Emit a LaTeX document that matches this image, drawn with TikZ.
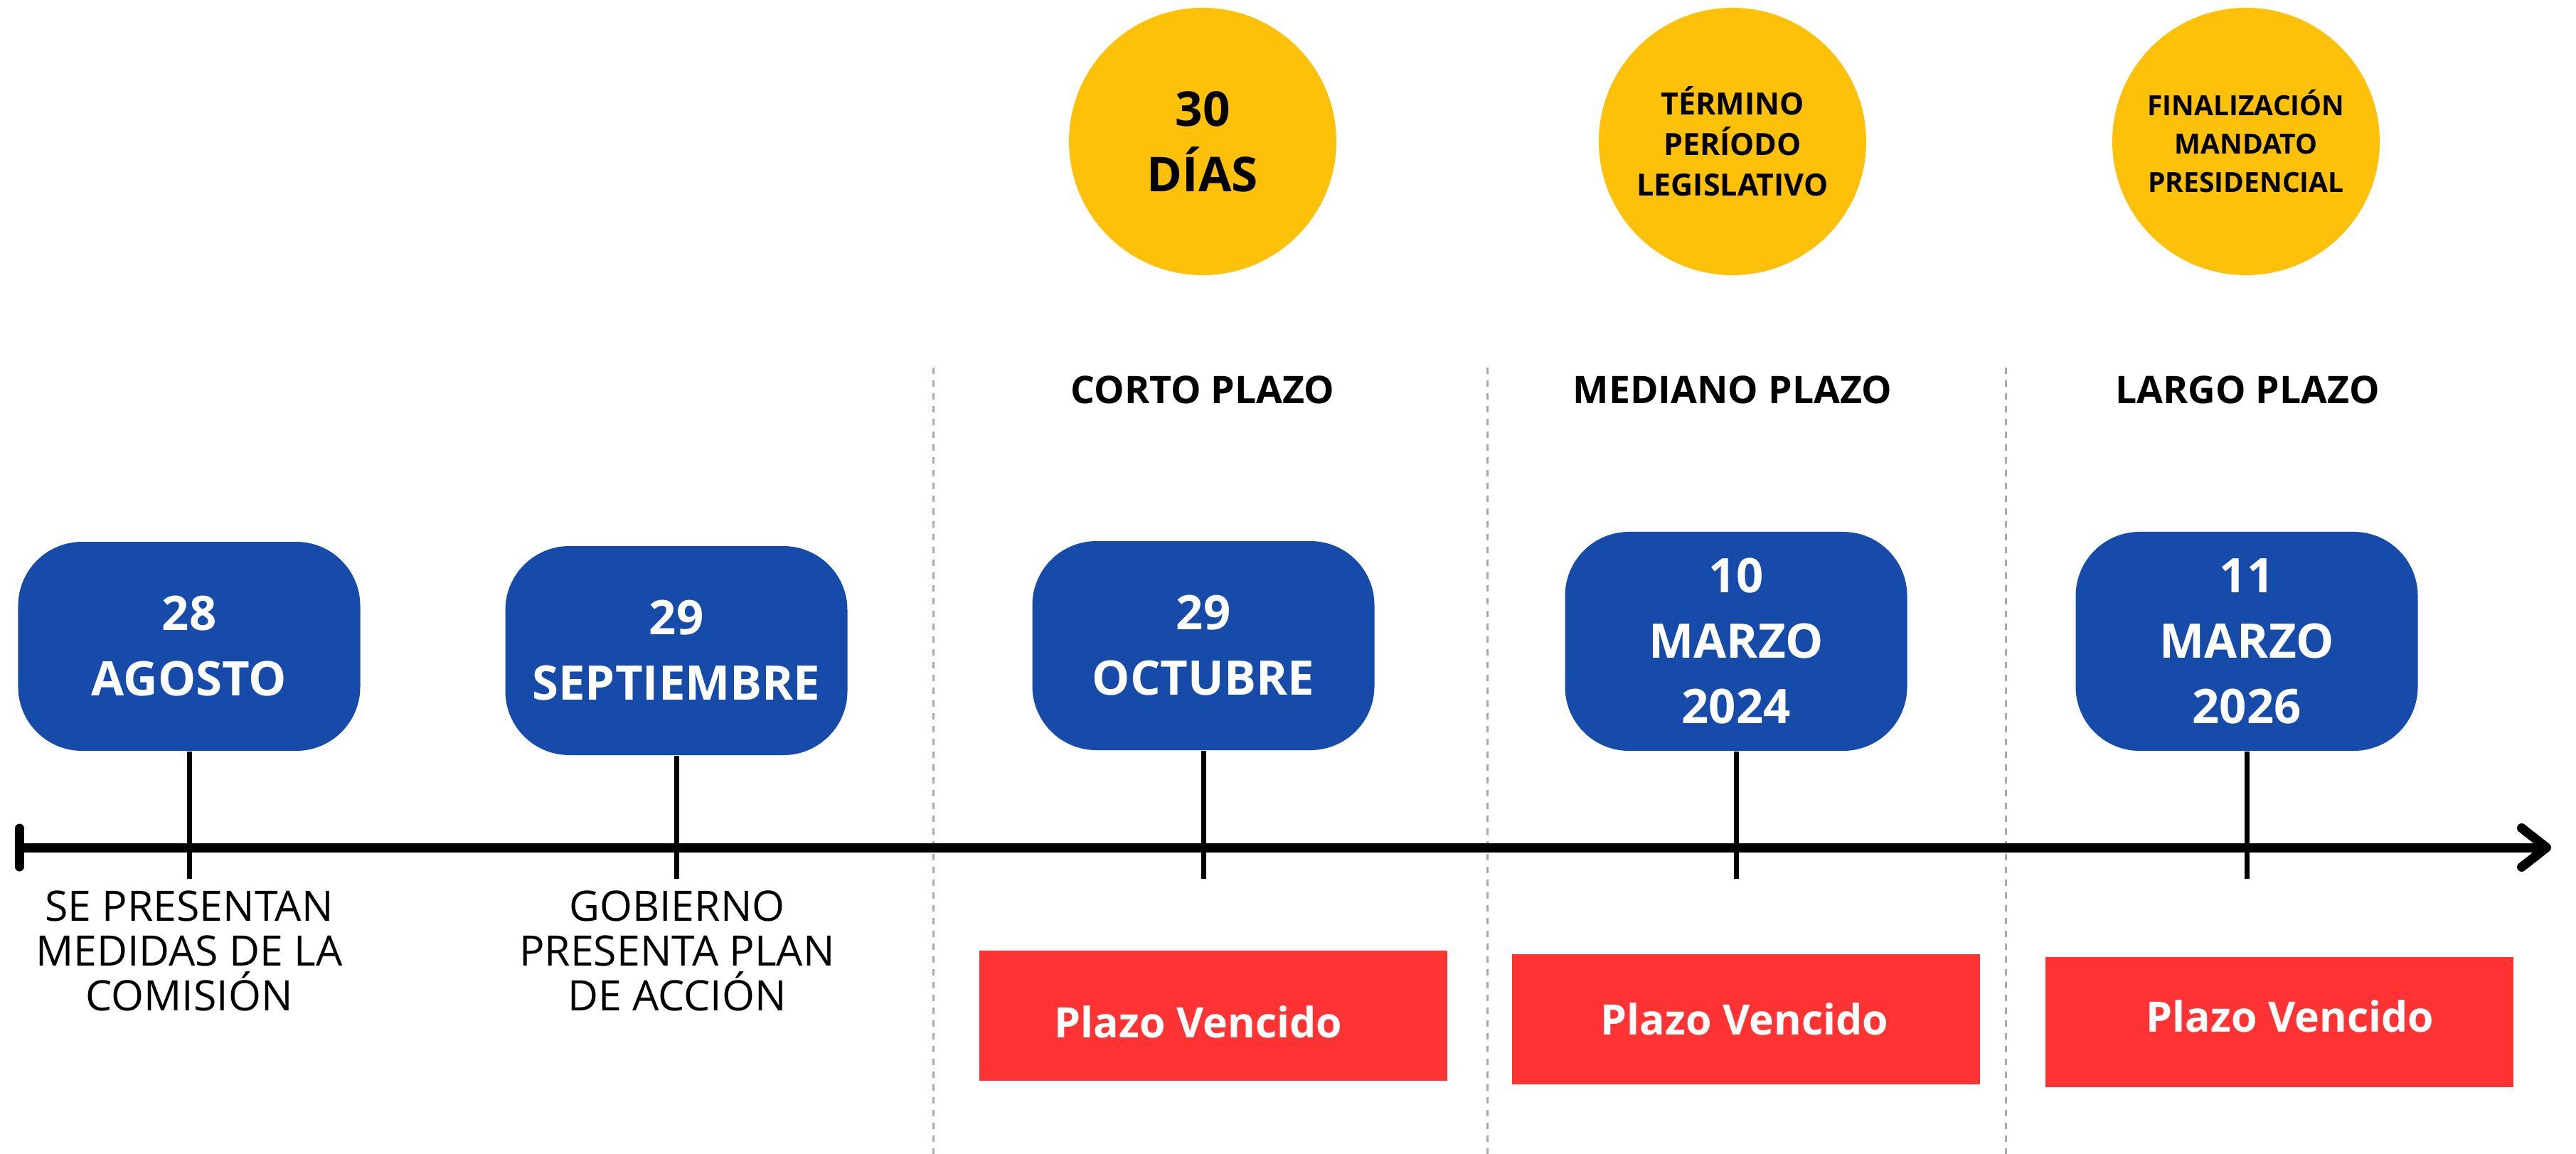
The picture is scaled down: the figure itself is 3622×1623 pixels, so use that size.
\documentclass[tikz,border=0pt]{standalone}
\usepackage{fontspec}
\setmainfont{Open Sans}
\usetikzlibrary{arrows.meta}
\definecolor{boxblue}{RGB}{23,75,170}
\definecolor{sunyellow}{RGB}{253,193,10}
\definecolor{alertred}{RGB}{255,51,51}
\definecolor{divgray}{RGB}{170,170,170}
\tikzset{
  datebox/.style={fill=boxblue, rounded corners=18pt, minimum width=96.2pt, minimum height=58.8pt,
    text=white, font=\fontsize{13.4}{18.4}\selectfont\bfseries, align=center, inner sep=0pt},
  tallbox/.style={datebox, minimum height=61.6pt},
  goalcircle/.style={circle, fill=sunyellow, minimum size=75.2pt, inner sep=0pt, align=center},
  bigcirc/.style={font=\fontsize{13.5}{18.4}\selectfont\bfseries},
  midcirc/.style={font=\fontsize{8.6}{11.4}\selectfont\bfseries},
  smallcirc/.style={font=\fontsize{7.8}{10.8}\selectfont\bfseries},
  redbox/.style={fill=alertred, minimum width=131.6pt, minimum height=36.6pt, inner sep=0pt},
  redtext/.style={text=white, font=\fontsize{11.8}{14}\selectfont\bfseries, inner sep=0pt, anchor=base},
  phaselabel/.style={font=\fontsize{10.7}{13}\selectfont\bfseries, inner sep=0pt},
  eventtext/.style={font=\fontsize{11.8}{12.6}\selectfont, align=center, inner sep=0pt},
  stem/.style={line width=1.4pt},
  divider/.style={divgray, line width=0.6pt, dash pattern=on 1.8pt off 1.8pt},
  axis/.style={line width=2.6pt, {Bar[width=10.8pt,line cap=round]}-{Straight Barb[length=7pt,width=11pt,line cap=round,round]}}
}
\begin{document}
\begin{tikzpicture}[x=0.2pt,y=-0.2pt]
\useasboundingbox[fill=white] (0,0) rectangle (3622,1623);

% dividers
\coordinate (d1t) at (1312,517); \coordinate (d1b) at (1312,1623);
\coordinate (d2t) at (2091,517); \coordinate (d2b) at (2091,1623);
\coordinate (d3t) at (2820,517); \coordinate (d3b) at (2820,1623);
\draw[divider] (d1t) -- (d1b);
\draw[divider] (d2t) -- (d2b);
\draw[divider] (d3t) -- (d3b);

% circles
\node[goalcircle, bigcirc] (c1) at (1691,199) {30\\DÍAS};
\node[goalcircle, midcirc] (c2) at (2436,199) {TÉRMINO\\PERÍODO\\LEGISLATIVO};
\node[goalcircle, smallcirc] (c3) at (3158,199) {FINALIZACIÓN\\MANDATO\\PRESIDENCIAL};

% phase labels
\node[phaselabel] (p1) at (1691,548) {CORTO PLAZO};
\node[phaselabel] (p2) at (2436,548) {MEDIANO PLAZO};
\node[phaselabel] (p3) at (3160,548) {LARGO PLAZO};

% timeline
\coordinate (tlS) at (21,1192);
\coordinate (tlE) at (3587,1192);
\draw[axis] (tlS) -- (tlE);

% date boxes
\node[datebox] (b1) at (266,909) {28\\AGOSTO};
\node[datebox] (b2) at (951,915) {29\\SEPTIEMBRE};
\node[datebox] (b3) at (1692,908) {29\\OCTUBRE};
\node[tallbox] (b4) at (2441,902) {10\\MARZO\\2024};
\node[tallbox] (b5) at (3159,902) {11\\MARZO\\2026};

% stems
\coordinate (s1) at (266,1236);
\coordinate (s2) at (951,1236);
\coordinate (s3) at (1692,1236);
\coordinate (s4) at (2441,1236);
\coordinate (s5) at (3159,1236);
\draw[stem] (b1.south) -- (s1);
\draw[stem] (b2.south) -- (s2);
\draw[stem] (b3.south) -- (s3);
\draw[stem] (b4.south) -- (s4);
\draw[stem] (b5.south) -- (s5);

% event texts
\node[eventtext] (e1) at (266,1337) {SE PRESENTAN\\MEDIDAS DE LA\\COMISIÓN};
\node[eventtext] (e2) at (952,1337) {GOBIERNO\\PRESENTA PLAN\\DE ACCIÓN};

% red boxes
\node[redbox] (r1) at (1706,1428) {};
\node[redbox] (r2) at (2455,1433) {};
\node[redbox] (r3) at (3205,1437) {};
\node[redtext] (r1t) at (1685,1459) {Plazo Vencido};
\node[redtext] (r2t) at (2453,1455) {Plazo Vencido};
\node[redtext] (r3t) at (3220,1451) {Plazo Vencido};
\end{tikzpicture}
\end{document}
